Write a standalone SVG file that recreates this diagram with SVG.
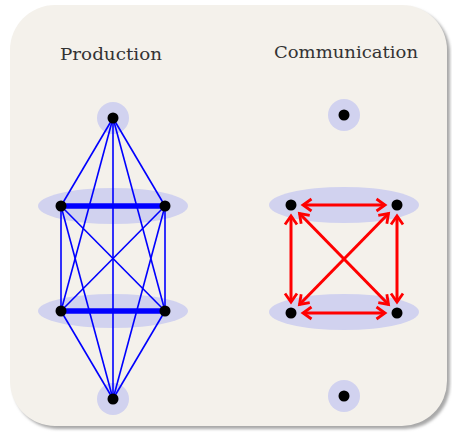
<svg xmlns="http://www.w3.org/2000/svg" width="452" height="432" viewBox="0 0 452 432">
  <defs>
    <filter id="blur" x="-10%" y="-10%" width="120%" height="120%">
      <feGaussianBlur stdDeviation="1.5"/>
    </filter>
    <marker id="ah" viewBox="0 0 12 14" markerWidth="12" markerHeight="14" refX="10" refY="7" orient="auto-start-reverse" markerUnits="userSpaceOnUse" overflow="visible">
      <path d="M1.5,1 L10,7 L1.5,13" fill="none" stroke="#ff0000" stroke-width="2.8" stroke-linejoin="miter"/>
    </marker>
    <style>
      .title { font-family: "DejaVu Serif", "Liberation Serif", serif; font-size: 17px; fill: #333333; }
      .halo { fill: #d1d2ef; }
      .dot { fill: #000000; }
      .thin { stroke: #0000ff; stroke-width: 1.6; fill: none; }
      .thick { stroke: #0000ff; stroke-width: 5.5; fill: none; }
      .arr { stroke: #ff0000; stroke-width: 3; fill: none; marker-start: url(#ah); marker-end: url(#ah); }
    </style>
  </defs>

  <g id="background">
    <rect x="13" y="8" width="437" height="421" rx="45" ry="45" fill="#a8a8a8" filter="url(#blur)"/>
    <rect x="10" y="5" width="437" height="421" rx="45" ry="45" fill="#f4f1eb"/>
  </g>

  <g id="titles">
    <text class="title" x="60" y="60" textLength="102" lengthAdjust="spacingAndGlyphs">Production</text>
    <text class="title" x="274" y="58" textLength="144" lengthAdjust="spacingAndGlyphs">Communication</text>
  </g>

  <g id="halos">
    <circle class="halo" cx="113" cy="118" r="16"/>
    <ellipse class="halo" cx="113" cy="206" rx="75" ry="18"/>
    <ellipse class="halo" cx="113" cy="311" rx="75" ry="17"/>
    <circle class="halo" cx="113" cy="399" r="16"/>
    <circle class="halo" cx="344" cy="115" r="16"/>
    <ellipse class="halo" cx="344" cy="205" rx="75" ry="18"/>
    <ellipse class="halo" cx="344" cy="312" rx="75" ry="18"/>
    <circle class="halo" cx="344" cy="396" r="16"/>
  </g>

  <g id="connectors">
    <line class="thin" x1="113" y1="118" x2="61" y2="206"/>
    <line class="thin" x1="113" y1="118" x2="165" y2="206"/>
    <line class="thin" x1="113" y1="118" x2="61" y2="311"/>
    <line class="thin" x1="113" y1="118" x2="165" y2="311"/>
    <line class="thin" x1="113" y1="118" x2="113" y2="399"/>
    <line class="thin" x1="113" y1="399" x2="61" y2="206"/>
    <line class="thin" x1="113" y1="399" x2="165" y2="206"/>
    <line class="thin" x1="113" y1="399" x2="61" y2="311"/>
    <line class="thin" x1="113" y1="399" x2="165" y2="311"/>
    <line class="thin" x1="61" y1="206" x2="61" y2="311"/>
    <line class="thin" x1="165" y1="206" x2="165" y2="311"/>
    <line class="thin" x1="61" y1="206" x2="165" y2="311"/>
    <line class="thin" x1="165" y1="206" x2="61" y2="311"/>
    <line class="thick" x1="61" y1="206" x2="165" y2="206"/>
    <line class="thick" x1="61" y1="311" x2="165" y2="311"/>

    <line class="arr" x1="303" y1="205" x2="385" y2="205"/>
    <line class="arr" x1="303" y1="313" x2="385" y2="313"/>
    <line class="arr" x1="291" y1="216" x2="291" y2="302"/>
    <line class="arr" x1="397" y1="216" x2="397" y2="302"/>
    <line class="arr" x1="299.5" y1="213.5" x2="388.5" y2="304.5"/>
    <line class="arr" x1="388.5" y1="213.5" x2="299.5" y2="304.5"/>
  </g>

  <g id="p-top"><circle class="dot" cx="113" cy="118" r="5.5"/></g>
  <g id="p-ul"><circle class="dot" cx="61" cy="206" r="5.5"/></g>
  <g id="p-ur"><circle class="dot" cx="165" cy="206" r="5.5"/></g>
  <g id="p-ll"><circle class="dot" cx="61" cy="311" r="5.5"/></g>
  <g id="p-lr"><circle class="dot" cx="165" cy="311" r="5.5"/></g>
  <g id="p-bottom"><circle class="dot" cx="113" cy="399" r="5.5"/></g>

  <g id="c-top"><circle class="dot" cx="344" cy="115" r="5.5"/></g>
  <g id="c-ul"><circle class="dot" cx="291" cy="205" r="5.5"/></g>
  <g id="c-ur"><circle class="dot" cx="397" cy="205" r="5.5"/></g>
  <g id="c-ll"><circle class="dot" cx="291" cy="313" r="5.5"/></g>
  <g id="c-lr"><circle class="dot" cx="397" cy="313" r="5.5"/></g>
  <g id="c-bottom"><circle class="dot" cx="344" cy="396" r="5.5"/></g>
</svg>
